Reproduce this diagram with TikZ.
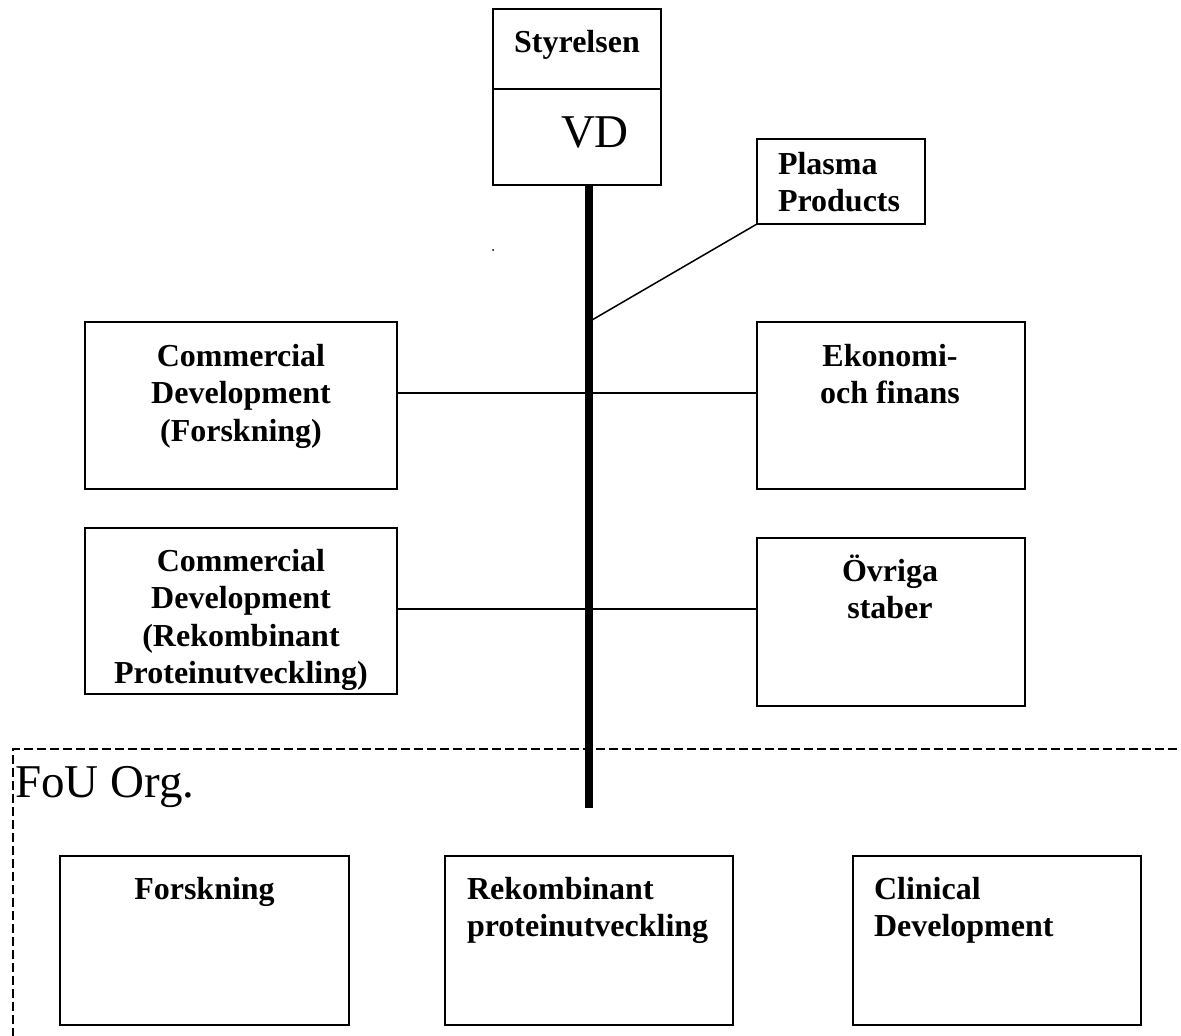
\documentclass[tikz,border=0pt]{standalone}
\usepackage{fontspec}
\setmainfont{Liberation Serif}
\begin{document}
\begin{tikzpicture}[x=1pt,y=-1pt,
  box/.style={draw, line width=2pt, inner sep=0pt, outer sep=0pt},
  lbl/.style={inner sep=0pt, outer sep=0pt, font=\fontsize{32}{37.5}\selectfont\bfseries},
  big/.style={inner sep=0pt, outer sep=0pt, font=\fontsize{47}{52}\selectfont},
  conn/.style={line width=1.5pt},
  org/.style={line width=1.5pt, dash pattern=on 9pt off 4pt}]
\useasboundingbox (0,0) rectangle (1181,1036);
% boxes
\node[box, minimum width=168pt, minimum height=80pt] (styr) at (577,49) {};
\node[box, minimum width=168pt, minimum height=96pt] (vd) at (577,137) {};
\node[box, minimum width=168pt, minimum height=85pt] (plasma) at (841,181.5) {};
\node[box, minimum width=312pt, minimum height=167pt] (cf1) at (241,405.5) {};
\node[box, minimum width=268pt, minimum height=167pt] (eko) at (891,405.5) {};
\node[box, minimum width=312pt, minimum height=166pt] (cf2) at (241,611) {};
\node[box, minimum width=268pt, minimum height=168pt] (ovr) at (891,622) {};
\node[box, minimum width=289pt, minimum height=169pt] (forsk) at (204.5,940.5) {};
\node[box, minimum width=288pt, minimum height=169pt] (rek) at (589,940.5) {};
\node[box, minimum width=288pt, minimum height=169pt] (clin) at (997,940.5) {};
% texts
\node[lbl, anchor=north, align=center] (styrt) at (577,22) {\rule{0pt}{30pt}Styrelsen};
\node[big, anchor=base west] (vdt) at (561,147) {VD};
\node[lbl, anchor=north west, align=left] (plasmat) at (778,144) {\rule{0pt}{30pt}Plasma\\Products};
\node[lbl, anchor=north, align=center] (cf1t) at (241,336) {\rule{0pt}{30pt}Commercial\\Development\\(Forskning)};
\node[lbl, anchor=north, align=center] (ekot) at (890,336) {\rule{0pt}{30pt}Ekonomi-\\och finans};
\node[lbl, anchor=north, align=center] (cf2t) at (241,541) {\rule{0pt}{30pt}Commercial\\Development\\(Rekombinant\\Proteinutveckling)};
\node[lbl, anchor=north, align=center] (ovrt) at (890,551) {\rule{0pt}{30pt}Övriga\\staber};
\node[lbl, anchor=north, align=center] (forskt) at (204.5,869) {\rule{0pt}{30pt}Forskning};
\node[lbl, anchor=north west, align=left] (rekt) at (467,869) {\rule{0pt}{30pt}Rekombinant\\proteinutveckling};
\node[lbl, anchor=north west, align=left] (clint) at (874,869) {\rule{0pt}{30pt}Clinical\\Development};
\node[big, anchor=base west] (fou) at (15,797) {FoU Org.};
% stray dot
\fill (493,250) circle (1pt);
% FoU dashed frame
\coordinate (fr1) at (1190,749);
\coordinate (fr2) at (13,749);
\coordinate (fr3) at (13,1045);
\draw[org] (fr1) -- (fr2) -- (fr3);
% connectors
\coordinate (h1) at (0,393);
\coordinate (h2) at (0,609);
\coordinate (barend) at (589,808);
\coordinate (barj) at (592,320);
\draw[conn] (cf1.east |- h1) -- (eko.west |- h1);
\draw[conn] (cf2.east |- h2) -- (ovr.west |- h2);
\draw[conn] (plasma.south west) -- (barj);
\draw[line width=8pt] (vd.south -| barend) -- (barend);
\end{tikzpicture}
\end{document}
